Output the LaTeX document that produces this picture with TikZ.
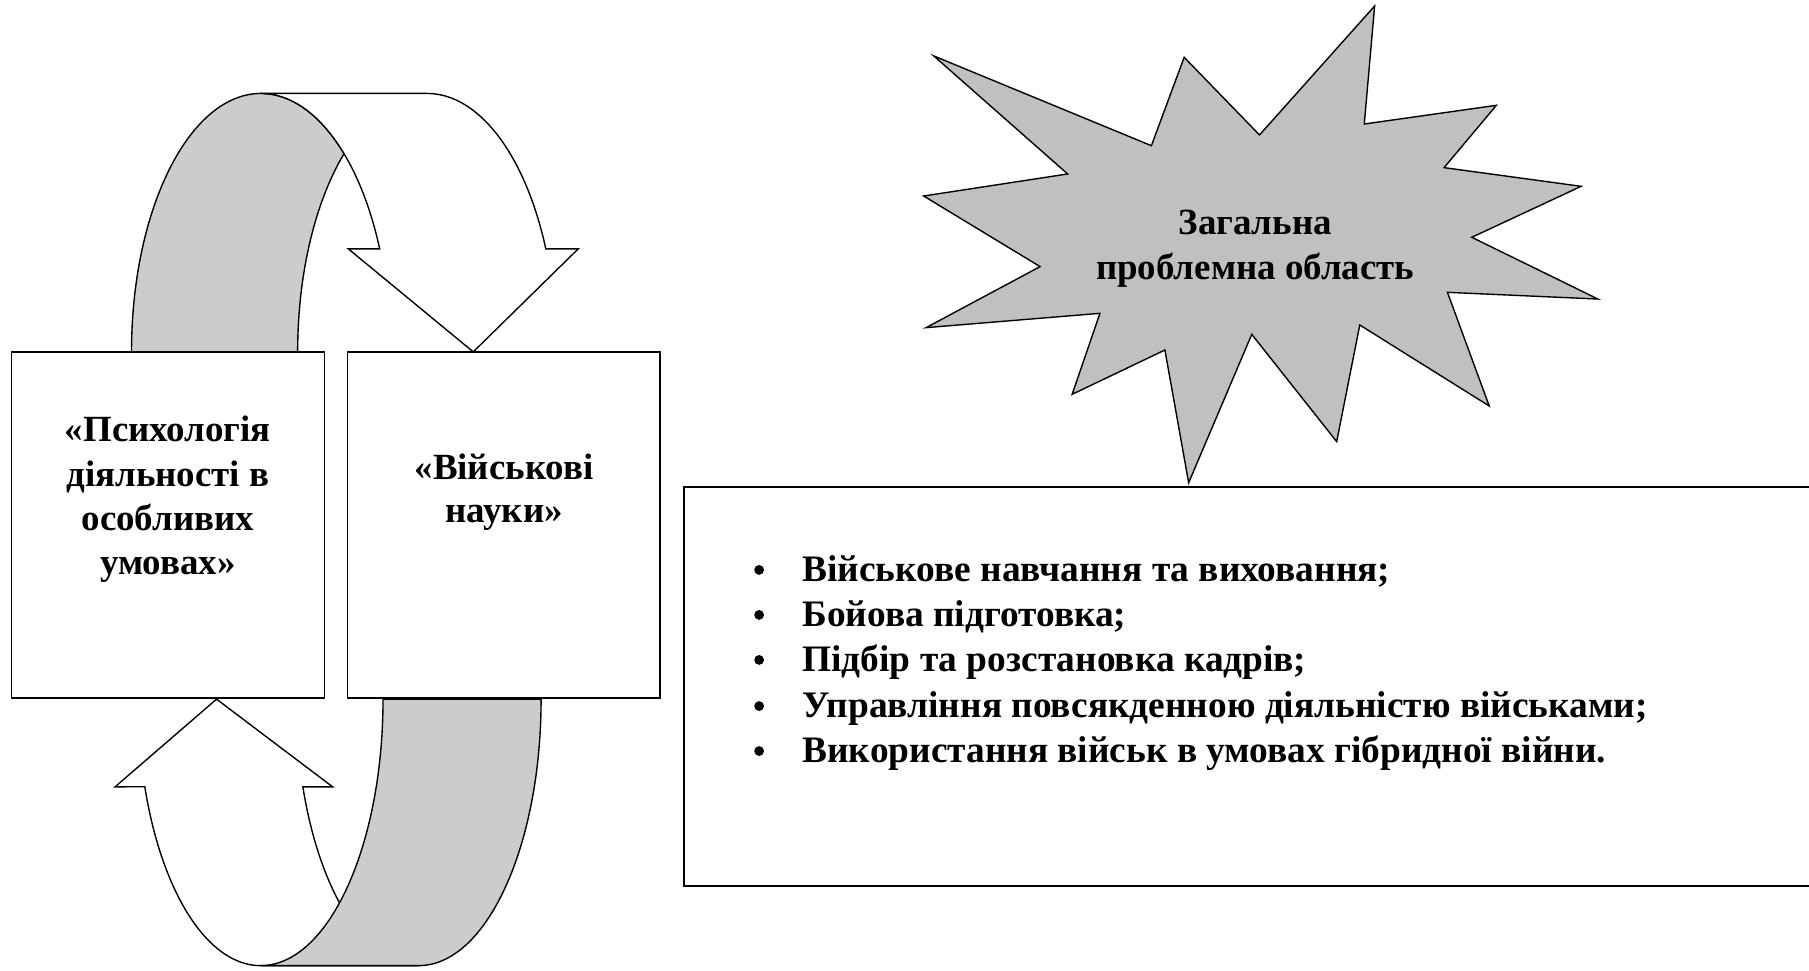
\documentclass[tikz,border=0pt]{standalone}
\usepackage{fontspec}
\setmainfont{Liberation Serif}
\definecolor{bandgray}{RGB}{204,204,204}
\definecolor{stargray}{RGB}{192,192,192}
\begin{document}
\begin{tikzpicture}[x=1pt,y=1pt,line width=1.2pt,line join=miter,
  box/.style={draw,fill=white,inner sep=0pt,outer sep=0pt},
  lbl/.style={font=\fontsize{32}{38}\selectfont\bfseries,inner sep=0pt,anchor=base},
  item/.style={font=\fontsize{32.4}{38}\selectfont\bfseries,inner sep=0pt,anchor=base west},
  bul/.style={circle,fill=black,inner sep=0pt,minimum size=8.5pt},
  ell1/.style={x radius=112.2,y radius=224},
  ell2/.style={x radius=106.2,y radius=231}]
\fill[white] (0,0) rectangle (1568,841);
\clip (0,0) rectangle (1568,841);
% top curved arrow
\draw[fill=bandgray] (114,536) arc[start angle=180,end angle=50.08,ell1]
  arc[start angle=129.92,end angle=180,ell1] -- cycle;
\draw[fill=white] (226.2,760) -- (370.2,760) arc[start angle=90,end angle=23.5,ell1]
  -- (501.2,625.3) -- (410.2,536) -- (301.9,625.3) -- (329.1,625.3)
  arc[start angle=23.5,end angle=90,ell1] -- cycle;
% bottom curved arrow
\draw[fill=white] (225.8,4) arc[start angle=270,end angle=199.2,ell2]
  -- (99.8,159) -- (187.7,235) -- (288.3,159) -- (262.5,159)
  arc[start angle=199.2,end angle=270,ell2] -- cycle;
\draw[fill=bandgray] (469,235) arc[start angle=0,end angle=-90,ell2]
  -- (225.8,4) arc[start angle=270,end angle=360,ell2] -- cycle;
% boxes
\node[box,minimum width=271pt,minimum height=300pt] (psy) at (145.5,386) {};
\node[box,minimum width=271pt,minimum height=300pt] (vn) at (436.5,386) {};
\node[lbl] (psy1) at (145.5,458) {«Психологія};
\node[lbl] (psy2) at (145.5,419) {діяльності в};
\node[lbl] (psy3) at (145.5,381) {особливих};
\node[lbl] (psy4) at (145.5,343) {умовах»};
\node[lbl] (vn1) at (437,425) {«Військові};
\node[lbl] (vn2) at (437,388) {науки»};
% star
\draw[fill=stargray] (809.4,792.5) -- (998,714.7) -- (1026.4,791.3) -- (1091.7,724)
 -- (1191.5,835.8) -- (1182.5,733.5) -- (1297,749.7) -- (1251.7,695.7)
 -- (1370.5,679.5) -- (1275.7,635.3) -- (1385,581.8) -- (1254.6,587.6)
 -- (1290.8,489.1) -- (1178.6,559.3) -- (1158.6,458.2) -- (1085,551.2)
 -- (1030.3,422.6) -- (1009.7,537.6) -- (929.3,499.2) -- (953.4,569.4)
 -- (802.7,557) -- (901.5,609.9) -- (800.6,671.1) -- (925.4,690.2) -- cycle;
\node[lbl] (st1) at (1088,638) {Загальна};
\node[lbl] (st2) at (1088,599) {проблемна область};
% list box
\node[box,minimum width=1007pt,minimum height=346pt] (lst) at (1096.5,246) {};
\foreach \i/\y/\t in {1/337/{Військове навчання та виховання;},
  2/298/{Бойова підготовка;},
  3/259/{Підбір та розстановка кадрів;},
  4/219/{Управління повсякденною діяльністю військами;},
  5/180/{Використання військ в умовах гібридної війни.}}{
  \node[bul] (b\i) at (658,\y+10) {};
  \node[item] (it\i) at (695,\y) {\t};
}
\end{tikzpicture}
\end{document}
